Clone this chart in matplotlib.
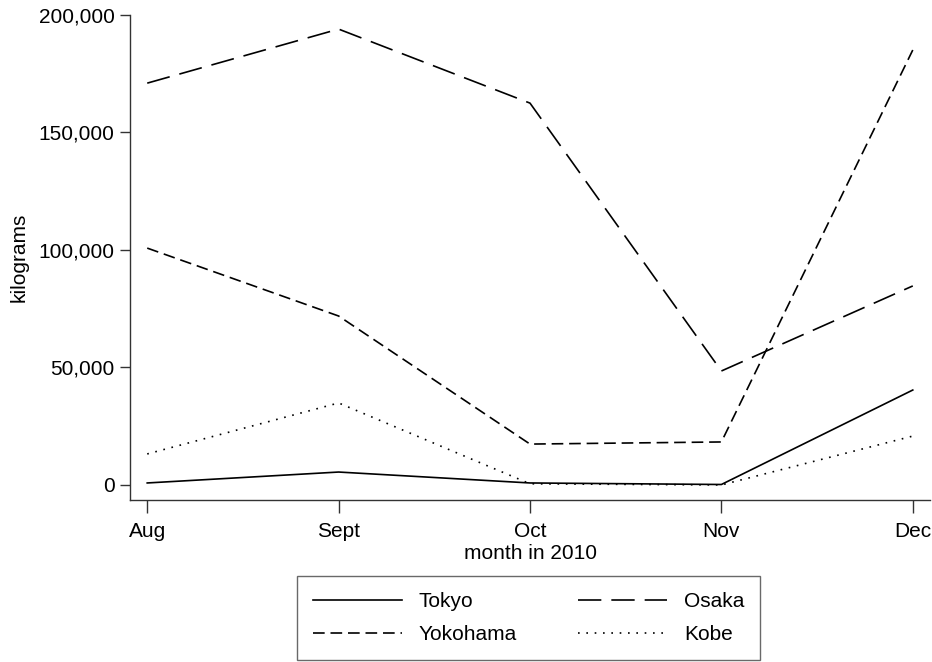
import matplotlib
matplotlib.use("Agg")
import matplotlib.pyplot as plt
from matplotlib.ticker import FuncFormatter

months = ["Aug", "Sept", "Oct", "Nov", "Dec"]
tokyo = [850, 5500, 850, 200, 40400]
osaka = [171000, 194000, 162500, 48500, 84700]
yokohama = [100800, 71900, 17400, 18300, 185100]
kobe = [13200, 34900, 500, 0, 20800]
yticks = [0, 50000, 100000, 150000, 200000]

plt.rcParams['font.family'] = ['Liberation Sans', 'DejaVu Sans']
fig = plt.figure(figsize=(9.32, 6.62), dpi=100)
ax = fig.add_axes([130/932, 162/662, 800/932, 485/662])

x = list(range(len(months)))
lw = 1.2
l1, = ax.plot(x, tokyo, color='black', lw=lw, linestyle='-', label='Tokyo')
l2, = ax.plot(x, osaka, color='black', lw=lw, linestyle=(0, (14, 6)), label='Osaka')
l3, = ax.plot(x, yokohama, color='black', lw=lw, linestyle=(0, (7, 3.5)), label='Yokohama')
l4, = ax.plot(x, kobe, color='black', lw=lw, linestyle=(0, (1, 4)), label='Kobe')

ax.set_xlim(-0.09, 4.09)
ax.set_ylim(-6400, 200000)
ax.set_xticks(x)
ax.set_xticklabels(months)
ax.set_yticks(yticks)
ax.yaxis.set_major_formatter(FuncFormatter(lambda v, p: f"{int(v):,}"))
for s in ['top', 'right']:
    ax.spines[s].set_visible(False)
for s in ['left', 'bottom']:
    ax.spines[s].set_linewidth(1.0)
    ax.spines[s].set_color('#333333')
ax.tick_params(axis='both', labelsize=15, width=1.0, color='#333333')
ax.tick_params(axis='y', length=7, pad=4)
ax.tick_params(axis='x', length=9, pad=7)
ax.set_xlabel("month in 2010", fontsize=15, labelpad=2)
ax.set_ylabel("kilograms", fontsize=15, labelpad=7)

leg = fig.legend([l1, l3, l2, l4], ['Tokyo', 'Yokohama', 'Osaka', 'Kobe'],
                 ncol=2, loc='center', bbox_to_anchor=(0.567, 0.0665),
                 fontsize=15, frameon=True, fancybox=False, handlelength=4.3,
                 columnspacing=2.9, handletextpad=0.8, borderpad=0.75,
                 labelspacing=0.68, borderaxespad=0)
leg.get_frame().set_edgecolor('#444444')
leg.get_frame().set_linewidth(1.0)

fig.savefig("out.png", dpi=100)
